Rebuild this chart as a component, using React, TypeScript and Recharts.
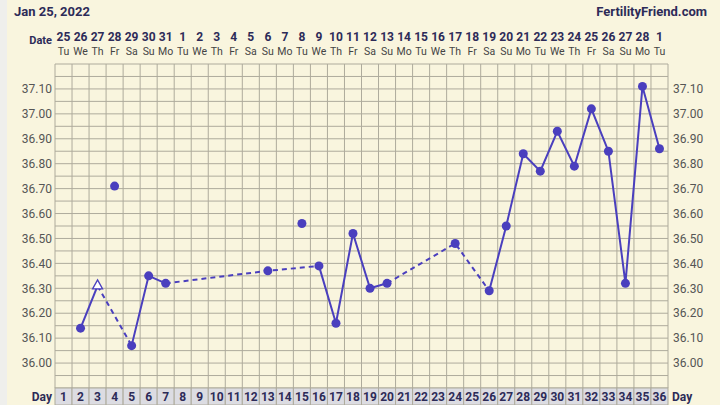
import React from 'react';
import { ComposedChart, Line, Scatter, XAxis, YAxis, ReferenceLine } from 'recharts';

const days = [1, 2, 3, 4, 5, 6, 7, 8, 9, 10, 11, 12, 13, 14, 15, 16, 17, 18, 19, 20, 21, 22, 23, 24, 25, 26, 27, 28, 29, 30, 31, 32, 33, 34, 35, 36];
const dates = ['25', '26', '27', '28', '29', '30', '31', '1', '2', '3', '4', '5', '6', '7', '8', '9', '10', '11', '12', '13', '14', '15', '16', '17', '18', '19', '20', '21', '22', '23', '24', '25', '26', '27', '28', '1'];
const weekdays = ['Tu', 'We', 'Th', 'Fr', 'Sa', 'Su', 'Mo', 'Tu', 'We', 'Th', 'Fr', 'Sa', 'Su', 'Mo', 'Tu', 'We', 'Th', 'Fr', 'Sa', 'Su', 'Mo', 'Tu', 'We', 'Th', 'Fr', 'Sa', 'Su', 'Mo', 'Tu', 'We', 'Th', 'Fr', 'Sa', 'Su', 'Mo', 'Tu'];
const temps: (number | null)[] = [null, 36.14, 36.31, 36.71, 36.07, 36.35, 36.32, null, null, null, null, null, 36.37, null, 36.56, 36.39, 36.16, 36.52, 36.30, 36.32, null, null, null, 36.48, null, 36.29, 36.55, 36.84, 36.77, 36.93, 36.79, 37.02, 36.85, 36.32, 37.11, 36.86];
const openDays = [3];
const solidRuns = [[2, 3], [5, 6, 7], [16, 17, 18, 19, 20], [26, 27, 28, 29, 30, 31, 32, 33, 34, 35, 36]];
const dashedRuns = [[3, 5], [7, 13, 16], [20, 24, 26]];
const yTicks = [36.0, 36.1, 36.2, 36.3, 36.4, 36.5, 36.6, 36.7, 36.8, 36.9, 37.0, 37.1];

const W = 720;
const H = 405;
const LEFT_W = 55;
const RIGHT_W = 52;
const COL_W = (W - LEFT_W - RIGHT_W) / days.length;
const LINE_COLOR = '#4a3fbe';
const GRID = '#aeab9c';
const NAVY = '#2d2b58';
const CREAM = '#f9f5de';
const FONT = 'Roboto, sans-serif';

const gridX: number[] = [];
for (let i = 0; i <= days.length; i++) gridX.push(0.5 + i);
const gridY: number[] = [];
for (let i = 0; i <= 26; i++) gridY.push(Math.round((35.9 + i * 0.05) * 100) / 100);

const runData = (run: number[]) => run.map((d) => ({ day: d, temp: temps[d - 1] }));
const dotData = days.filter((d) => temps[d - 1] !== null && !openDays.includes(d)).map((d) => ({ day: d, temp: temps[d - 1] }));
const openData = openDays.map((d) => ({ day: d, temp: temps[d - 1] }));
const allDays = days.map((d) => ({ day: d, temp: 36.5 }));

const TopTick = (props: any) => {
  const { x, y, payload } = props;
  const i = payload.value - 1;
  return (
    <g>
      {payload.value === 1 && (
        <text x={x - COL_W / 2 - 3} y={y - 20} textAnchor="end" fontFamily={FONT} fontWeight={700} fontSize={11} fill={NAVY}>
          Date
        </text>
      )}
      <text x={x} y={y - 23} textAnchor="middle" fontFamily={FONT} fontWeight={700} fontSize={12} fill={NAVY}>
        {dates[i]}
      </text>
      <text x={x} y={y - 9} textAnchor="middle" fontFamily={FONT} fontSize={10.5} fill="#444">
        {weekdays[i]}
      </text>
    </g>
  );
};

const DayTick = (props: any) => {
  const { x, y, payload } = props;
  return (
    <g>
      <rect x={x - COL_W / 2} y={y} width={COL_W} height={17} fill="#dcdce2" stroke={GRID} strokeWidth={1} />
      <text x={x} y={y + 13} textAnchor="middle" fontFamily={FONT} fontWeight={700} fontSize={12} fill={NAVY}>
        {payload.value}
      </text>
      {payload.value === 1 && (
        <text x={x - COL_W / 2 - 3} y={y + 13} textAnchor="end" fontFamily={FONT} fontWeight={700} fontSize={12} fill={NAVY}>
          Day
        </text>
      )}
      {payload.value === days.length && (
        <text x={x + COL_W / 2 + 4} y={y + 13} textAnchor="start" fontFamily={FONT} fontWeight={700} fontSize={12} fill={NAVY}>
          Day
        </text>
      )}
    </g>
  );
};

const Triangle = (props: any) => {
  const { cx, cy } = props;
  return <path d={`M${cx},${cy - 6} L${cx + 5},${cy + 3} L${cx - 5},${cy + 3} Z`} fill="#ffffff" stroke={LINE_COLOR} strokeWidth={1.3} />;
};

const Dot = (props: any) => {
  const { cx, cy } = props;
  return <circle cx={cx} cy={cy} r={4.5} fill={LINE_COLOR} />;
};

const Nothing = () => <g />;

export default function App() {
  return (
    <div style={{ position: 'absolute', left: 0, top: 0, width: W, height: H, background: CREAM, overflow: 'hidden' }}>
      <div style={{ position: 'absolute', left: 0, top: 0, width: 7, height: H, background: '#efefec' }} />
      <div style={{ position: 'absolute', left: 14, top: 4, fontFamily: FONT, fontWeight: 700, fontSize: 13, color: NAVY }}>Jan 25, 2022</div>
      <div style={{ position: 'absolute', right: 13, top: 4, fontFamily: FONT, fontWeight: 700, fontSize: 13, color: NAVY }}>FertilityFriend.com</div>
      <div style={{ position: 'absolute', left: 0, top: 0 }}>
        <ComposedChart width={W} height={H} margin={{ top: 24, right: 0, bottom: 0, left: 0 }}>
          <XAxis xAxisId="top" orientation="top" type="number" dataKey="day" domain={[0.5, 36.5]} ticks={days} interval={0} height={40} axisLine={false} tickLine={false} tickSize={0} tickMargin={0} tick={<TopTick />} allowDataOverflow />
          <XAxis xAxisId="bot" orientation="bottom" type="number" dataKey="day" domain={[0.5, 36.5]} ticks={days} interval={0} height={17} axisLine={false} tickLine={false} tickSize={0} tickMargin={0} tick={<DayTick />} allowDataOverflow />
          <YAxis yAxisId="l" orientation="left" type="number" domain={[35.9, 37.2]} ticks={yTicks} interval={0} width={LEFT_W} axisLine={false} tickLine={false} tickSize={0} tickMargin={3} tickFormatter={(v: number) => v.toFixed(2)} tick={{ fill: '#555', fontSize: 12, fontFamily: FONT }} allowDataOverflow />
          <YAxis yAxisId="r" orientation="right" type="number" domain={[35.9, 37.2]} ticks={yTicks} interval={0} width={RIGHT_W} axisLine={false} tickLine={false} tickSize={0} tickMargin={5} tickFormatter={(v: number) => v.toFixed(2)} tick={{ fill: '#555', fontSize: 12, fontFamily: FONT }} allowDataOverflow />
          <Scatter xAxisId="top" yAxisId="r" data={allDays} dataKey="temp" shape={<Nothing />} isAnimationActive={false} />
          {gridY.map((v) => (
            <ReferenceLine key={'h' + v} xAxisId="bot" yAxisId="l" y={v} stroke={GRID} strokeWidth={1} ifOverflow="extendDomain" />
          ))}
          {gridX.map((v) => (
            <ReferenceLine key={'v' + v} xAxisId="bot" yAxisId="l" x={v} stroke={GRID} strokeWidth={1} ifOverflow="extendDomain" />
          ))}
          {dashedRuns.map((run, i) => (
            <Line key={'d' + i} xAxisId="bot" yAxisId="l" data={runData(run)} dataKey="temp" stroke={LINE_COLOR} strokeWidth={2} strokeDasharray="5 4" dot={false} activeDot={false} isAnimationActive={false} />
          ))}
          {solidRuns.map((run, i) => (
            <Line key={'s' + i} xAxisId="bot" yAxisId="l" data={runData(run)} dataKey="temp" stroke={LINE_COLOR} strokeWidth={2} dot={false} activeDot={false} isAnimationActive={false} />
          ))}
          <Scatter xAxisId="bot" yAxisId="l" data={dotData} dataKey="temp" shape={<Dot />} isAnimationActive={false} />
          <Scatter xAxisId="bot" yAxisId="l" data={openData} dataKey="temp" shape={<Triangle />} isAnimationActive={false} />
        </ComposedChart>
      </div>
    </div>
  );
}
